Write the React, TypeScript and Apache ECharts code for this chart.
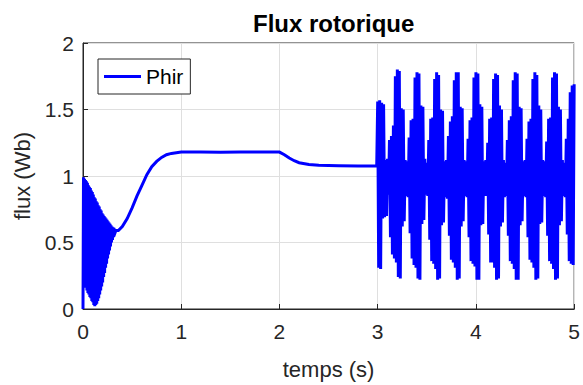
import React, { useEffect, useRef } from "react";
import * as echarts from "echarts";

// Start-up transient: fast oscillation sampled every 0.005 s from t = 0
const transientStart = 0;
const transientStep = 0.005;
const transientFlux = [
  0.0, 0.99, 0.19, 0.98, 0.18, 0.97, 0.16, 0.96, 0.14, 0.95, 0.12, 0.93,
  0.11, 0.92, 0.09, 0.91, 0.08, 0.89, 0.06, 0.88, 0.05, 0.86, 0.03, 0.84,
  0.02, 0.83, 0.03, 0.81, 0.04, 0.8, 0.06, 0.78, 0.08, 0.77, 0.11, 0.75,
  0.14, 0.74, 0.17, 0.72, 0.2, 0.71, 0.24, 0.7, 0.27, 0.69, 0.31, 0.68,
  0.34, 0.67, 0.38, 0.66, 0.41, 0.65, 0.44, 0.64, 0.47, 0.63, 0.5, 0.62,
  0.52, 0.615, 0.54, 0.61, 0.56, 0.6, 0.58, 0.59,
];

// Smooth rise, plateau, load step at t = 2 s
const rampTime = [
  0.36, 0.4, 0.45, 0.5, 0.55, 0.6, 0.65, 0.7, 0.75, 0.8, 0.85, 0.9, 0.95,
  1.0, 1.2, 1.4, 1.6, 1.8, 2.0, 2.05, 2.1, 2.15, 2.2, 2.3, 2.4, 2.6, 2.8, 2.99,
];
const rampFlux = [
  0.59, 0.62, 0.68, 0.76, 0.85, 0.93, 1.01, 1.07, 1.11, 1.14, 1.16, 1.17,
  1.175, 1.18, 1.18, 1.178, 1.18, 1.18, 1.18, 1.16, 1.135, 1.115, 1.1, 1.087,
  1.08, 1.077, 1.075, 1.075,
];

// Disturbed regime from t = 3 s, sampled every 0.01 s
const disturbanceStart = 3.0;
const disturbanceStep = 0.01;
const disturbanceFlux = [
  1.56, 0.31, 1.57, 0.3, 1.55, 0.68, 1.54, 0.69, 1.12, 0.7, 1.13, 0.86, 1.27, 0.54, 1.3, 0.41, 1.38, 0.38, 1.75, 0.35,
  1.8, 0.24, 1.79, 0.23, 1.51, 0.62, 1.5, 0.66, 1.12, 0.85, 1.11, 0.84, 1.29, 0.57, 1.42, 0.38, 1.43, 0.33, 1.74, 0.31,
  1.78, 0.23, 1.77, 0.22, 1.53, 0.64, 1.52, 0.67, 1.13, 0.86, 1.1, 0.85, 1.27, 0.52, 1.43, 0.36, 1.44, 0.34, 1.73, 0.3,
  1.78, 0.22, 1.76, 0.23, 1.5, 0.63, 1.49, 0.65, 1.11, 0.84, 1.12, 0.83, 1.3, 0.55, 1.41, 0.37, 1.45, 0.35, 1.72, 0.31,
  1.78, 0.22, 1.78, 0.23, 1.52, 0.62, 1.51, 0.66, 1.12, 0.85, 1.11, 0.84, 1.28, 0.54, 1.42, 0.36, 1.44, 0.34, 1.74, 0.32,
  1.78, 0.22, 1.77, 0.22, 1.54, 0.63, 1.52, 0.64, 1.11, 0.85, 1.12, 0.85, 1.25, 0.56, 1.43, 0.35, 1.44, 0.35, 1.73, 0.31,
  1.77, 0.22, 1.76, 0.23, 1.53, 0.62, 1.5, 0.65, 1.12, 0.84, 1.1, 0.85, 1.27, 0.55, 1.42, 0.36, 1.45, 0.34, 1.72, 0.3,
  1.78, 0.22, 1.77, 0.22, 1.52, 0.63, 1.51, 0.66, 1.11, 0.85, 1.12, 0.84, 1.28, 0.54, 1.41, 0.37, 1.43, 0.35, 1.73, 0.31,
  1.78, 0.22, 1.76, 0.23, 1.53, 0.64, 1.5, 0.65, 1.12, 0.85, 1.11, 0.84, 1.26, 0.55, 1.43, 0.36, 1.44, 0.34, 1.74, 0.3,
  1.78, 0.22, 1.77, 0.23, 1.52, 0.63, 1.5, 0.66, 1.12, 0.85, 1.1, 0.84, 1.28, 0.56, 1.43, 0.36, 1.63, 0.34, 1.68, 0.33,
  1.69,
];

const seriesName = "Phir";
const titleText = "Flux rotorique";
const xName = "temps (s)";
const yName = "flux (Wb)";

function buildPoints(): [number, number][] {
  const pts: [number, number][] = [];
  transientFlux.forEach((v, i) =>
    pts.push([+(transientStart + i * transientStep).toFixed(4), v])
  );
  rampTime.forEach((t, i) => pts.push([t, rampFlux[i]]));
  disturbanceFlux.forEach((v, i) =>
    pts.push([+(disturbanceStart + i * disturbanceStep).toFixed(3), v])
  );
  return pts;
}

const FONT = "'Liberation Sans', Arial, Helvetica, sans-serif";
const AX = "#262626";

export default function App() {
  const ref = useRef<HTMLDivElement>(null);
  useEffect(() => {
    if (!ref.current) return;
    const chart = echarts.init(ref.current, null, { renderer: "svg" });
    chart.setOption({
      animation: false,
      backgroundColor: "#ffffff",
      textStyle: { fontFamily: FONT },
      title: {
        text: titleText,
        left: 248,
        top: 6,
        textStyle: { fontSize: 24, fontWeight: "bold", color: "#000", fontFamily: FONT },
      },
      legend: {
        left: 98,
        top: 59,
        data: [{ name: seriesName, icon: "rect" }],
        itemWidth: 37,
        itemHeight: 3,
        padding: [7, 7, 7, 6],
        borderColor: AX,
        borderWidth: 1,
        backgroundColor: "#fff",
        textStyle: { fontSize: 21, color: "#000", fontFamily: FONT, lineHeight: 21 },
      },
      grid: {
        left: 83,
        right: 7,
        top: 43,
        bottom: 72,
        show: true,
        borderColor: AX,
        borderWidth: 1,
        backgroundColor: "transparent",
      },
      xAxis: {
        type: "value",
        min: 0,
        max: 5,
        interval: 1,
        name: xName,
        nameLocation: "middle",
        nameGap: 49,
        nameTextStyle: { fontSize: 22, color: AX, fontFamily: FONT },
        axisLine: { show: true, lineStyle: { color: AX, width: 1 } },
        axisTick: { show: true, inside: true, length: 5, lineStyle: { color: AX } },
        axisLabel: { fontSize: 21, color: AX, margin: 12, fontFamily: FONT },
        splitLine: { show: true, lineStyle: { color: "#dfdfdf", width: 1 } },
      },
      yAxis: {
        type: "value",
        min: 0,
        max: 2,
        interval: 0.5,
        name: yName,
        nameLocation: "middle",
        nameGap: 47,
        nameTextStyle: { fontSize: 22, color: AX, fontFamily: FONT },
        axisLine: { show: true, lineStyle: { color: AX, width: 1 } },
        axisTick: { show: true, inside: true, length: 5, lineStyle: { color: AX } },
        axisLabel: { fontSize: 21, color: AX, margin: 9, fontFamily: FONT },
        splitLine: { show: true, lineStyle: { color: "#dfdfdf", width: 1 } },
      },
      series: [
        {
          name: seriesName,
          type: "line",
          data: buildPoints(),
          showSymbol: false,
          symbol: "none",
          color: "#0000ff",
          lineStyle: { color: "#0000ff", width: 3, join: "miter" },
          clip: true,
        },
      ],
    });
    return () => chart.dispose();
  }, []);
  return (
    <div
      ref={ref}
      style={{ position: "fixed", left: 0, top: 0, width: 583, height: 385, background: "#fff" }}
    />
  );
}
